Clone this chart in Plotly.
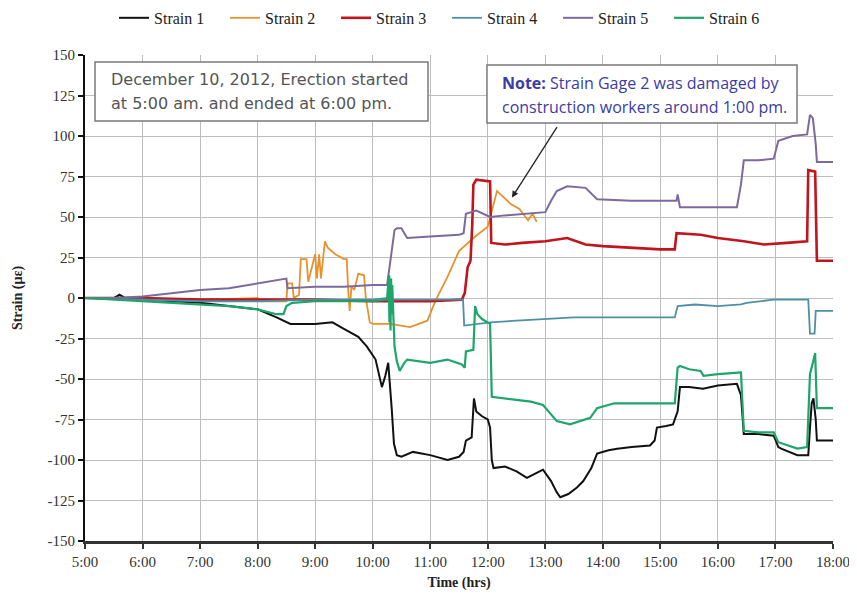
import plotly.graph_objects as go

# ---- data (time in decimal hours, strain in microstrain) ----
s1_t = [5.0, 5.5, 5.6, 5.7, 6.0, 6.5, 7.0, 7.5, 8.0, 8.33, 8.57, 9.0, 9.3, 9.5, 9.6, 9.75, 9.9, 10.05, 10.16, 10.22,
        10.27, 10.3, 10.33, 10.37, 10.42, 10.5, 10.7, 11.0, 11.3, 11.5, 11.58, 11.62, 11.72, 11.76, 11.8, 11.9, 12.0,
        12.04, 12.07, 12.1, 12.3, 12.5, 12.68, 12.85, 12.96, 13.1, 13.2, 13.26, 13.4, 13.55, 13.66, 13.8, 13.9, 14.1,
        14.25, 14.5, 14.82, 14.9, 14.94, 15.1, 15.22, 15.3, 15.34, 15.5, 15.74, 16.0, 16.33, 16.4, 16.45, 16.7, 16.97,
        17.05, 17.1, 17.38, 17.57, 17.6, 17.63, 17.66, 17.7, 17.72, 18.0]
s1_v = [0, 0, 2, 0, -1, -2, -3, -5, -7, -12, -16, -16, -15, -19, -21, -24, -30, -38, -55, -48,
        -40, -52, -68, -90, -97, -98, -95, -97, -100, -98, -95, -88, -86, -62, -70, -73, -75,
        -80, -100, -105, -104, -107, -111, -108, -106, -113, -120, -123, -121, -117, -113, -105, -96, -94,
        -93, -92, -91, -88, -80, -79, -78, -70, -55, -55, -56, -54, -53, -60, -84, -84, -85,
        -92, -93, -97, -97, -80, -65, -62, -75, -88, -88]

s2_t = [5.0, 6.0, 7.0, 8.0, 8.05, 8.5, 8.52, 8.6, 8.63, 8.72, 8.75, 8.85, 8.88, 9.0, 9.03, 9.07, 9.1, 9.17, 9.22,
        9.35, 9.5, 9.55, 9.57, 9.6, 9.63, 9.68, 9.75, 9.85, 9.88, 9.95, 10.0, 10.3, 10.65, 10.95, 11.1, 11.3, 11.5,
        11.75, 12.0, 12.1, 12.16, 12.25, 12.4, 12.55, 12.7, 12.78, 12.85]
s2_v = [0, -1, -1, 0, -2, -2, 9, 9, 0, 2, 24, 24, 10, 27, 12, 27, 12, 35, 31,
        27, 24, 24, 7, -8, 7, 5, 15, 14, 0, -15, -16, -16, -18, -14, -1, 13, 29,
        37, 44, 58, 66, 63, 58, 55, 48, 52, 47]

s3_t = [5.0, 6.0, 7.0, 8.0, 8.5, 9.0, 10.0, 11.0, 11.55, 11.6, 11.65, 11.7, 11.73, 11.75, 11.8, 12.04, 12.06, 12.3,
        12.6, 13.0, 13.38, 13.7, 14.0, 14.5, 15.0, 15.25, 15.28, 15.7, 16.0, 16.45, 16.8, 17.2, 17.55, 17.57, 17.69,
        17.72, 18.0]
s3_v = [0, 0, -1, -1, -1, -1, -2, -2, -1, 3, 19, 23, 45, 70, 73, 72, 34, 33,
        34, 35, 37, 33, 32, 31, 30, 30, 40, 39, 37, 35, 33, 34, 35, 79, 78,
        23, 23]

s4_t = [5.0, 6.0, 7.0, 8.0, 9.0, 10.0, 10.27, 10.29, 10.31, 10.35, 11.0, 11.5, 11.57, 11.59, 11.8, 12.05, 12.5, 13.0,
        13.5, 14.0, 14.5, 15.0, 15.25, 15.3, 15.6, 16.0, 16.4, 16.5, 16.97, 17.2, 17.57, 17.6, 17.68, 17.7, 18.0]
s4_v = [0, -1, -2, -2, -1, -1, 0, 14, -2, -1, -1, -1, -1, -17, -16, -15, -14, -13,
        -12, -12, -12, -12, -12, -5, -4, -5, -4, -3, -1, -1, -1, -22, -22, -8, -8]

s5_t = [5.0, 5.5, 6.0, 6.5, 7.0, 7.5, 8.0, 8.3, 8.5, 8.52, 9.0, 9.5, 10.0, 10.25, 10.3, 10.38, 10.42, 10.5, 10.55,
        10.6, 11.0, 11.5, 11.58, 11.62, 11.8, 12.04, 12.3, 12.6, 13.0, 13.1, 13.2, 13.38, 13.7, 13.9, 14.5, 15.0,
        15.28, 15.3, 15.34, 15.7, 16.0, 16.33, 16.4, 16.45, 16.7, 16.97, 17.05, 17.3, 17.55, 17.6, 17.65, 17.7,
        17.72, 18.0]
s5_v = [0, 0, 1, 3, 5, 6, 9, 11, 12, 6, 7, 7, 8, 8, 20, 42, 43, 43, 40,
        37, 38, 39, 40, 52, 54, 50, 51, 52, 53, 60, 66, 69, 68, 61, 60, 60,
        60, 64, 56, 56, 56, 56, 70, 85, 85, 86, 97, 100, 101, 113, 111, 95,
        84, 84]

s6_t = [5.0, 5.5, 6.0, 6.5, 7.0, 7.5, 8.0, 8.33, 8.45, 8.5, 8.6, 9.0, 9.5, 10.0, 10.25, 10.28, 10.29, 10.3, 10.31,
        10.32, 10.33, 10.34, 10.36, 10.38, 10.42, 10.47, 10.55, 10.6, 11.0, 11.3, 11.55, 11.6, 11.62, 11.75, 11.78,
        11.82, 11.9, 12.0, 12.04, 12.07, 12.3, 12.5, 12.75, 12.96, 13.2, 13.43, 13.6, 13.78, 13.9, 14.2, 14.6, 15.0,
        15.25, 15.3, 15.34, 15.5, 15.7, 15.75, 16.0, 16.4, 16.45, 16.7, 16.97, 17.05, 17.2, 17.38, 17.55, 17.6,
        17.65, 17.69, 17.72, 18.0]
s6_v = [0, -1, -2, -3, -4, -5, -7, -10, -10, -5, -3, -2, -2, -2, -1, 14, -15, 10, -20,
        12, -10, 8, -12, -30, -39, -45, -40, -38, -40, -38, -41, -43, -33, -32, -5,
        -10, -13, -15, -16, -61, -62, -63, -64, -66, -76, -78, -76, -74, -68, -65, -65, -65,
        -65, -43, -42, -44, -45, -48, -47, -46, -82, -83, -83, -89, -91, -93, -92, -47,
        -40, -34, -68, -68]

series_names = ["Strain 1", "Strain 2", "Strain 3", "Strain 4", "Strain 5", "Strain 6"]
tick_hours = [5, 6, 7, 8, 9, 10, 11, 12, 13, 14, 15, 16, 17, 18]
tick_labels = ["5:00", "6:00", "7:00", "8:00", "9:00", "10:00", "11:00", "12:00",
               "13:00", "14:00", "15:00", "16:00", "17:00", "18:00"]
y_ticks = [-150, -125, -100, -75, -50, -25, 0, 25, 50, 75, 100, 125, 150]
y_labels = ["-150", "-125", "-100", "-75", "-50", "-25", "0", "25", "50", "75", "100", "125", "150"]

note1_lines = ["December 10, 2012, Erection started", "at 5:00 am. and ended at 6:00 pm."]
note2_lines = ["<b>Note:</b> Strain Gage 2 was damaged by", "construction workers around 1:00 pm."]

colors = ["#111111", "#e8922e", "#c0151c", "#4e8fa6", "#7c6a9e", "#1ea66a"]
widths = [2, 1.8, 2.6, 1.8, 2, 2.2]
data = [(s1_t, s1_v), (s2_t, s2_v), (s3_t, s3_v), (s4_t, s4_v), (s5_t, s5_v), (s6_t, s6_v)]

fig = go.Figure()
for name, (t, v), c, w in zip(series_names, data, colors, widths):
    fig.add_trace(go.Scatter(x=t, y=v, name=name, mode="lines",
                             line=dict(color=c, width=w)))

serif = "Liberation Serif"
fig.update_layout(
    width=845, height=583,
    margin=dict(l=77, r=20, t=47, b=50, autoexpand=False),
    paper_bgcolor="white", plot_bgcolor="white",
    font=dict(family=serif, size=15, color="#333333"),
    showlegend=True,
    legend=dict(orientation="h", x=0.484, xanchor="center", y=0.983, yref="container",
                yanchor="middle", font=dict(family=serif, size=16, color="#222222"),
                itemwidth=30, entrywidth=66, entrywidthmode="pixels", traceorder="normal"),
    xaxis=dict(range=[5, 18], tickvals=tick_hours, ticktext=tick_labels,
               showgrid=True, gridcolor="#bdbdbd", gridwidth=1, zeroline=False,
               showline=True, linecolor="#333333", linewidth=2.5,
               ticks="outside", ticklen=5, tickcolor="#333333", tickwidth=1.5,
               tickfont=dict(family=serif, size=15, color="#333333"),
               title=dict(text="<b>Time (hrs)</b>", font=dict(family=serif, size=14, color="#222222"),
                          standoff=15)),
    yaxis=dict(range=[-150, 150], tickvals=y_ticks, ticktext=y_labels,
               showgrid=True, gridcolor="#bdbdbd", gridwidth=1, zeroline=False,
               showline=True, linecolor="#111111", linewidth=2,
               ticks="outside", ticklen=5, tickcolor="#111111", tickwidth=1.5,
               tickfont=dict(family=serif, size=15, color="#333333"),
               title=dict(text="<b>Strain (µε)</b>", font=dict(family=serif, size=14, color="#222222"),
                          standoff=22)),
)

# boxes for the two notes
fig.add_shape(type="rect", xref="paper", yref="paper", x0=0.0134, x1=0.4586, y0=0.8642, y1=0.9856,
              line=dict(color="#7a7a7a", width=1.5), fillcolor="white", layer="above")
fig.add_shape(type="rect", xref="paper", yref="paper", x0=0.5374, x1=0.9519, y0=0.8601, y1=0.9794,
              line=dict(color="#7a7a7a", width=1.5), fillcolor="white", layer="above")

for txt, yy in zip(note1_lines, [0.9506, 0.9012]):
    fig.add_annotation(xref="paper", yref="paper", x=0.0321, y=yy, xanchor="left", yanchor="middle",
                       text=txt, showarrow=False,
                       font=dict(family="DejaVu Sans", size=16, color="#555555"))
for txt, yy in zip(note2_lines, [0.9424, 0.8930]):
    fig.add_annotation(xref="paper", yref="paper", x=0.5548, y=yy, xanchor="left", yanchor="middle",
                       text=txt, showarrow=False,
                       font=dict(family="Open Sans", size=16, color="#3b3ba6"))

fig.add_annotation(
    x=12.42, y=62, xref="x", yref="y", text="", showarrow=True,
    ax=46, ay=-72, arrowhead=2, arrowsize=1, arrowwidth=1.3, arrowcolor="#222222")

fig.write_html("out.html")
